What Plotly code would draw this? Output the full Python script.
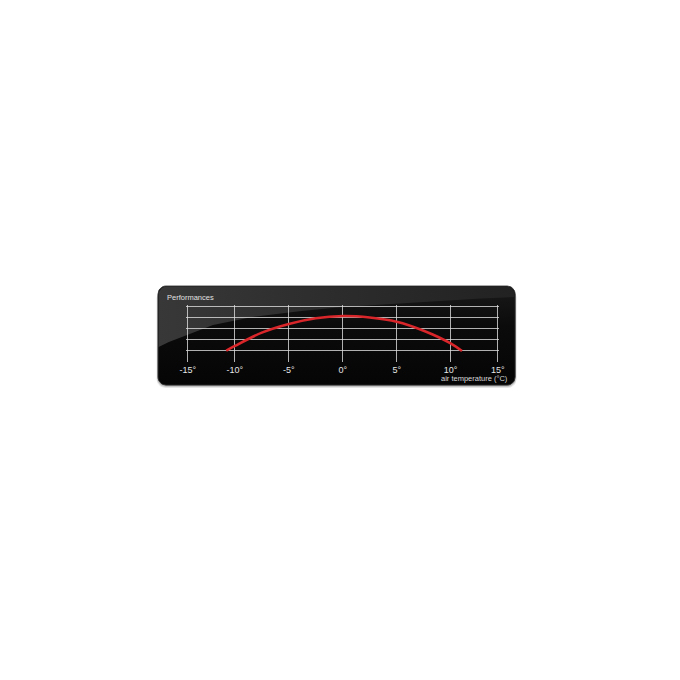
import numpy as np
import plotly.graph_objects as go

# performance curve
temps = [-10.8, -10, -7.5, -5, -2.5, 0, 2.5, 5, 7.5, 10, 11.05]
perf = [1.0, 1.43, 2.64, 3.43, 3.95, 4.15, 4.02, 3.64, 2.82, 1.67, 0.97]

# x axis: the outer grid lines carry the -15 / 15 labels
tick_vals = [-14.36, -10, -5, 0, 5, 10, 14.36]
tick_text = ['-15°', '-10°', '-5°', '0°', '5°', '10°', '15°']
grid_levels = [1, 2, 3, 4, 5]

W = H = 680
FONT = 'Liberation Sans, Arial, sans-serif'
PX_DEG = 11.0     # pixels per degree
PX_UNIT = 11.0    # pixels per grid step
X0, Y0 = 342.3, 361.7   # pixel position of (0, 0)


def rounded_rect(x0, y0, x1, y1, r, n=8):
    # outline of a rounded box in pixel coords (y down)
    xs, ys = [], []
    corners = [(x1 - r, y0 + r, -90, 0), (x1 - r, y1 - r, 0, 90),
               (x0 + r, y1 - r, 90, 180), (x0 + r, y0 + r, 180, 270)]
    for cx, cy, a0, a1 in corners:
        a = np.radians(np.linspace(a0, a1, n))
        xs += list(cx + r * np.cos(a))
        ys += list(cy + r * np.sin(a))
    return xs + xs[:1], ys + ys[:1]


fig = go.Figure()

# drop shadow
for off, alpha in [(3, 0.10), (2, 0.15), (1, 0.25)]:
    sx, sy = rounded_rect(154 - off / 2, 286 + off, 518 + off / 2, 385 + off, 9)
    fig.add_trace(go.Scatter(x=sx, y=sy, mode='lines', fill='toself',
                             fillcolor='rgba(0,0,0,%s)' % alpha,
                             line=dict(width=0), hoverinfo='skip',
                             showlegend=False, xaxis='x', yaxis='y'))

# dark panel
px, py = rounded_rect(154, 286, 518, 385, 8)
fig.add_trace(go.Scatter(
    x=px, y=py, mode='lines', fill='toself',
    fillgradient=dict(type='vertical',
                      colorscale=[[0, '#050505'], [0.6, '#0b0b0b'], [1, '#1a1a1a']]),
    line=dict(width=0.8, color='#2a2a2a'), hoverinfo='skip', showlegend=False,
    xaxis='x', yaxis='y'))

# gloss highlight on the upper part
gx, gy = rounded_rect(154.6, 286.6, 517.4, 420, 8)
keep = [i for i in range(len(gx)) if gy[i] < 300]
order = np.argsort([gx[i] for i in keep])
top_x = [gx[keep[i]] for i in order]
top_y = [gy[keep[i]] for i in order]
arc_x = [517.4, 483, 420, 342, 300, 250, 210, 183, 165, 154.6]
arc_y = [297, 298.5, 302, 307, 311, 317, 325, 335, 342, 347]
glx = [154.6, 154.6] + top_x + arc_x
gly = [347, 296] + top_y + arc_y
fig.add_trace(go.Scatter(
    x=glx, y=gly, mode='lines', fill='toself',
    fillgradient=dict(type='horizontal',
                      colorscale=[[0, '#383838'], [0.5, '#2c2c2c'], [1, '#222222']]),
    line=dict(width=0), hoverinfo='skip', showlegend=False,
    xaxis='x', yaxis='y'))

# chart
fig.add_trace(go.Scatter(
    x=temps, y=perf, mode='lines',
    line=dict(color='#d8262a', width=2.6, shape='spline', smoothing=1.0),
    hoverinfo='skip', showlegend=False, xaxis='x2', yaxis='y2'))

grid_col = 'rgba(220,220,220,0.8)'
xr = [-14.5, 14.5]
yr = [0, 5.15]

fig.update_layout(
    width=W, height=H,
    margin=dict(l=0, r=0, t=0, b=0),
    paper_bgcolor='white',
    plot_bgcolor='rgba(0,0,0,0)',
    xaxis=dict(domain=[0, 1], range=[0, W], visible=False, fixedrange=True),
    yaxis=dict(domain=[0, 1], range=[H, 0], visible=False, fixedrange=True),
    xaxis2=dict(domain=[(X0 + xr[0] * PX_DEG) / W, (X0 + xr[1] * PX_DEG) / W],
                range=xr, anchor='y2', fixedrange=True,
                tickvals=tick_vals, ticktext=tick_text, showgrid=True,
                gridcolor=grid_col, gridwidth=0.8, zeroline=False,
                showline=False, ticks='', ticklabelstandoff=1,
                tickfont=dict(family=FONT, size=9, color='#e6e6e6')),
    yaxis2=dict(domain=[(H - Y0) / H, (H - Y0 + yr[1] * PX_UNIT) / H], range=yr,
                anchor='x2', tickvals=grid_levels, showticklabels=False,
                fixedrange=True, showgrid=True, gridcolor=grid_col,
                gridwidth=0.8, zeroline=False, showline=False, ticks=''),
    annotations=[
        dict(text='Performances', x=161, y=297, xref='x', yref='y',
             xanchor='left', yanchor='middle', showarrow=False,
             font=dict(family=FONT, size=7.5, color='#e0e0e0')),
        dict(text='air temperature (°C)', x=513, y=378, xref='x', yref='y',
             xanchor='right', yanchor='middle', showarrow=False,
             font=dict(family=FONT, size=7.5, color='#d8d8d8')),
    ],
)

fig.write_html('out.html', config={'displayModeBar': False},
               post_script="document.body.style.margin='0';"
                           "document.body.style.overflow='hidden';")
